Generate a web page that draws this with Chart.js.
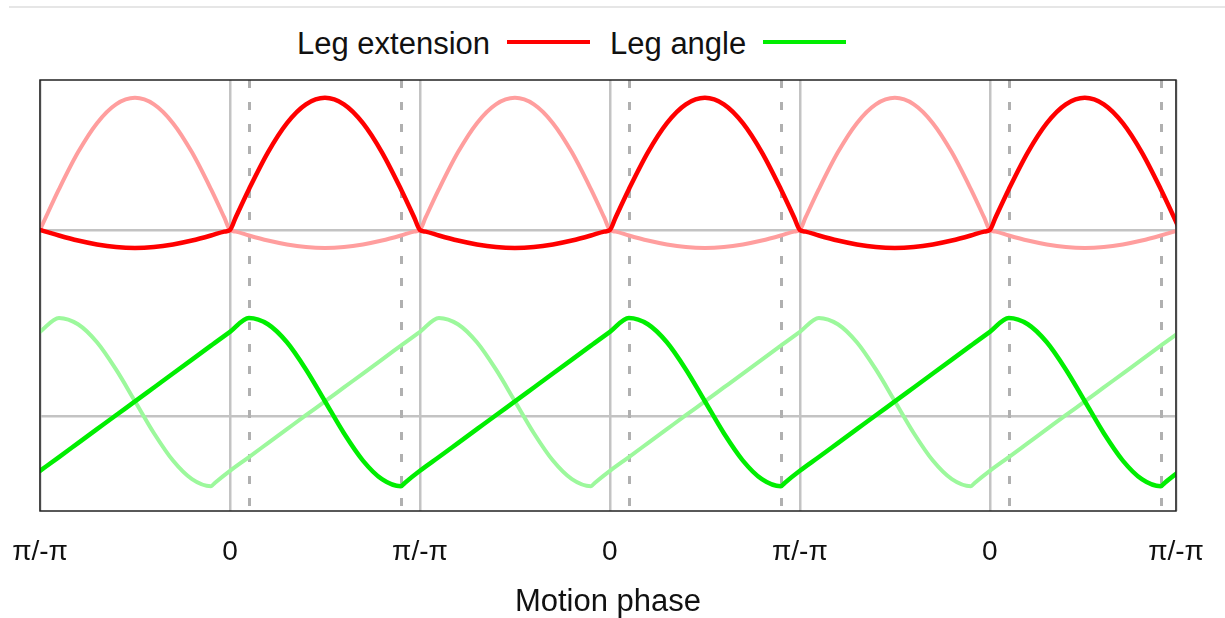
<!DOCTYPE html>
<html>
<head>
<meta charset="utf-8">
<script src="https://cdn.jsdelivr.net/npm/chart.js@4.4.1/dist/chart.umd.min.js"></script>
<style>
  html, body { margin: 0; padding: 0; background: #fff; }
  body { width: 1225px; height: 618px; position: relative; overflow: hidden;
         font-family: "Liberation Sans", Arial, sans-serif; }
  .rule { position: absolute; left: 9px; right: 0; top: 6px; height: 2px; background: #e6e6e6; }
  #legend { position: absolute; top: 28px; left: 297px; display: flex; align-items: center;
            font-size: 31px; line-height: 31px; color: #111; white-space: nowrap; }
  #legend .swatch { display: inline-block; width: 83px; height: 4px; margin: 0 20px 0 17px;
                    position: relative; top: -2px; }
  canvas { position: absolute; left: 0; top: 0; }
</style>
</head>
<body>
<div class="rule"></div>
<div id="legend"></div>
<canvas id="gaitChart" width="1225" height="618"></canvas>
<script>
// x in half cycles: 0 = π/-π, 1 = 0, 2 = π/-π ...
// extension curve has a kink at every half cycle, so it gets extra samples there
const extPhase = [
  0.0, 0.03, 0.1, 0.2, 0.3, 0.4, 0.5, 0.6, 0.7, 0.8, 0.9, 0.97,
  1.0, 1.03, 1.1, 1.2, 1.3, 1.4, 1.5, 1.6, 1.7, 1.8, 1.9, 1.97,
  2.0, 2.03, 2.1, 2.2, 2.3, 2.4, 2.5, 2.6, 2.7, 2.8, 2.9, 2.97,
  3.0, 3.03, 3.1, 3.2, 3.3, 3.4, 3.5, 3.6, 3.7, 3.8, 3.9, 3.97,
  4.0, 4.03, 4.1, 4.2, 4.3, 4.4, 4.5, 4.6, 4.7, 4.8, 4.9, 4.97,
  5.0, 5.03, 5.1, 5.2, 5.3, 5.4, 5.5, 5.6, 5.7, 5.8, 5.9, 5.97,
  6.0
];
// angle curves turn sharply just after each trough (x.9), extra sample at x.92
const anglePhase = [
  0.0, 0.1, 0.2, 0.3, 0.4, 0.5, 0.6, 0.7, 0.8, 0.9, 0.92,
  1.0, 1.1, 1.2, 1.3, 1.4, 1.5, 1.6, 1.7, 1.8, 1.9, 1.92,
  2.0, 2.1, 2.2, 2.3, 2.4, 2.5, 2.6, 2.7, 2.8, 2.9, 2.92,
  3.0, 3.1, 3.2, 3.3, 3.4, 3.5, 3.6, 3.7, 3.8, 3.9, 3.92,
  4.0, 4.1, 4.2, 4.3, 4.4, 4.5, 4.6, 4.7, 4.8, 4.9, 4.92,
  5.0, 5.1, 5.2, 5.3, 5.4, 5.5, 5.6, 5.7, 5.8, 5.9, 5.92,
  6.0
];

const tickPositions = [0, 1, 2, 3, 4, 5, 5.98];
const tickLabels = ["π/-π", "0", "π/-π", "0", "π/-π", "0", "π/-π"];
// dashed markers (touch-down / lift-off)
const stanceMarks = [1.1, 1.9, 3.1, 3.9, 5.1, 5.9];

const seriesLabels = ["Leg extension", "Leg angle"];

// leg extension, baseline on the upper grid line (1)
const legExtension = [
  1, 0.991, 0.97, 0.943, 0.922, 0.908, 0.903, 0.908, 0.922, 0.943, 0.97, 0.991,
  1, 1.067, 1.219, 1.417, 1.574, 1.675, 1.71, 1.675, 1.574, 1.417, 1.219, 1.067,
  1, 0.991, 0.97, 0.943, 0.922, 0.908, 0.903, 0.908, 0.922, 0.943, 0.97, 0.991,
  1, 1.067, 1.219, 1.417, 1.574, 1.675, 1.71, 1.675, 1.574, 1.417, 1.219, 1.067,
  1, 0.991, 0.97, 0.943, 0.922, 0.908, 0.903, 0.908, 0.922, 0.943, 0.97, 0.991,
  1, 1.067, 1.219, 1.417, 1.574, 1.675, 1.71, 1.675, 1.574, 1.417, 1.219, 1.067,
  1
];
const legExtensionOther = [
  1, 1.067, 1.219, 1.417, 1.574, 1.675, 1.71, 1.675, 1.574, 1.417, 1.219, 1.067,
  1, 0.991, 0.97, 0.943, 0.922, 0.908, 0.903, 0.908, 0.922, 0.943, 0.97, 0.991,
  1, 1.067, 1.219, 1.417, 1.574, 1.675, 1.71, 1.675, 1.574, 1.417, 1.219, 1.067,
  1, 0.991, 0.97, 0.943, 0.922, 0.908, 0.903, 0.908, 0.922, 0.943, 0.97, 0.991,
  1, 1.067, 1.219, 1.417, 1.574, 1.675, 1.71, 1.675, 1.574, 1.417, 1.219, 1.067,
  1, 0.991, 0.97, 0.943, 0.922, 0.908, 0.903, 0.908, 0.922, 0.943, 0.97, 0.991,
  1
];

// leg angle, baseline on the lower grid line (0)
const legAngle = [
  -0.295, -0.221, -0.146, -0.071, 0.004, 0.078, 0.153, 0.228, 0.303, 0.378, 0.393,
  0.452, 0.527, 0.493, 0.396, 0.25, 0.079, -0.093, -0.24, -0.34, -0.378, -0.36,
  -0.295, -0.221, -0.146, -0.071, 0.004, 0.078, 0.153, 0.228, 0.303, 0.378, 0.393,
  0.452, 0.527, 0.493, 0.396, 0.25, 0.079, -0.093, -0.24, -0.34, -0.378, -0.36,
  -0.295, -0.221, -0.146, -0.071, 0.004, 0.078, 0.153, 0.228, 0.303, 0.378, 0.393,
  0.452, 0.527, 0.493, 0.396, 0.25, 0.079, -0.093, -0.24, -0.34, -0.378, -0.36,
  -0.295
];
const legAngleOther = [
  0.452, 0.527, 0.493, 0.396, 0.25, 0.079, -0.093, -0.24, -0.34, -0.378, -0.36,
  -0.295, -0.221, -0.146, -0.071, 0.004, 0.078, 0.153, 0.228, 0.303, 0.378, 0.393,
  0.452, 0.527, 0.493, 0.396, 0.25, 0.079, -0.093, -0.24, -0.34, -0.378, -0.36,
  -0.295, -0.221, -0.146, -0.071, 0.004, 0.078, 0.153, 0.228, 0.303, 0.378, 0.393,
  0.452, 0.527, 0.493, 0.396, 0.25, 0.079, -0.093, -0.24, -0.34, -0.378, -0.36,
  -0.295, -0.221, -0.146, -0.071, 0.004, 0.078, 0.153, 0.228, 0.303, 0.378, 0.393,
  0.452
];

const FONT = "'Liberation Sans', Arial, sans-serif";
const RED = "#ff0000", RED_LIGHT = "#ff9e9e";
const GREEN = "#00ee00", GREEN_LIGHT = "#9cf89c";
const GRID = "#c3c3c3";

// html legend: text first, then the line sample
const legendEl = document.getElementById("legend");
[[seriesLabels[0], RED], [seriesLabels[1], GREEN]].forEach(([txt, col]) => {
  const t = document.createElement("span");
  t.textContent = txt;
  const s = document.createElement("span");
  s.className = "swatch";
  s.style.background = col;
  legendEl.append(t, s);
});

function series(xs, values, color, width) {
  return {
    data: xs.map((x, i) => ({ x, y: values[i] })),
    borderColor: color,
    borderWidth: width,
    pointRadius: 0,
    fill: false,
    cubicInterpolationMode: "monotone",
    borderJoinStyle: "round",
    borderCapStyle: "round"
  };
}

// dashed vertical markers behind the curves
const stanceLines = {
  id: "stanceLines",
  beforeDatasetsDraw(chart) {
    const { ctx, chartArea: a, scales: { x } } = chart;
    ctx.save();
    ctx.strokeStyle = "#b0b0b0";
    ctx.lineWidth = 3;
    ctx.setLineDash([8, 14]);
    stanceMarks.forEach((v) => {
      const px = Math.round(x.getPixelForValue(v)) + 0.5;
      ctx.beginPath();
      ctx.moveTo(px, a.top);
      ctx.lineTo(px, a.bottom);
      ctx.stroke();
    });
    ctx.restore();
  }
};

// thin dark box around the plot
const frame = {
  id: "frame",
  afterDraw(chart) {
    const { ctx, chartArea: a } = chart;
    ctx.save();
    ctx.strokeStyle = "#222";
    ctx.lineWidth = 1.5;
    ctx.strokeRect(a.left, a.top, a.right - a.left, a.bottom - a.top);
    ctx.restore();
  }
};

new Chart(document.getElementById("gaitChart"), {
  type: "line",
  data: {
    datasets: [
      series(extPhase, legExtension, RED, 4.5),
      series(anglePhase, legAngle, GREEN, 4.5),
      series(extPhase, legExtensionOther, RED_LIGHT, 4),
      series(anglePhase, legAngleOther, GREEN_LIGHT, 4)
    ]
  },
  options: {
    responsive: false,
    animation: false,
    layout: { padding: { left: 40, right: 49, top: 80, bottom: 0 } },
    plugins: { legend: { display: false }, tooltip: { enabled: false } },
    scales: {
      x: {
        type: "linear",
        min: 0,
        max: 5.98,
        afterBuildTicks: (s) => { s.ticks = tickPositions.map((v) => ({ value: v })); },
        // fixed axis height, and no extra room for the edge labels
        afterFit: (s) => { s.height = 107; s.paddingLeft = 0; s.paddingRight = 0; },
        ticks: {
          autoSkip: false,
          maxRotation: 0,
          padding: 24,
          color: "#111",
          font: { family: FONT, size: 28 },
          callback: (v, i) => tickLabels[i]
        },
        grid: { color: GRID, lineWidth: 2.5, drawTicks: false },
        border: { display: false },
        title: {
          display: true,
          text: "Motion phase",
          color: "#111",
          font: { family: FONT, size: 31 },
          padding: { top: 0, bottom: -3 }
        }
      },
      y: {
        min: -0.511,
        max: 1.806,
        afterBuildTicks: (s) => { s.ticks = [{ value: 0 }, { value: 1 }]; },
        ticks: { display: false },
        grid: { color: GRID, lineWidth: 2.5, drawTicks: false },
        border: { display: false }
      }
    }
  },
  plugins: [stanceLines, frame]
});
</script>
</body>
</html>
